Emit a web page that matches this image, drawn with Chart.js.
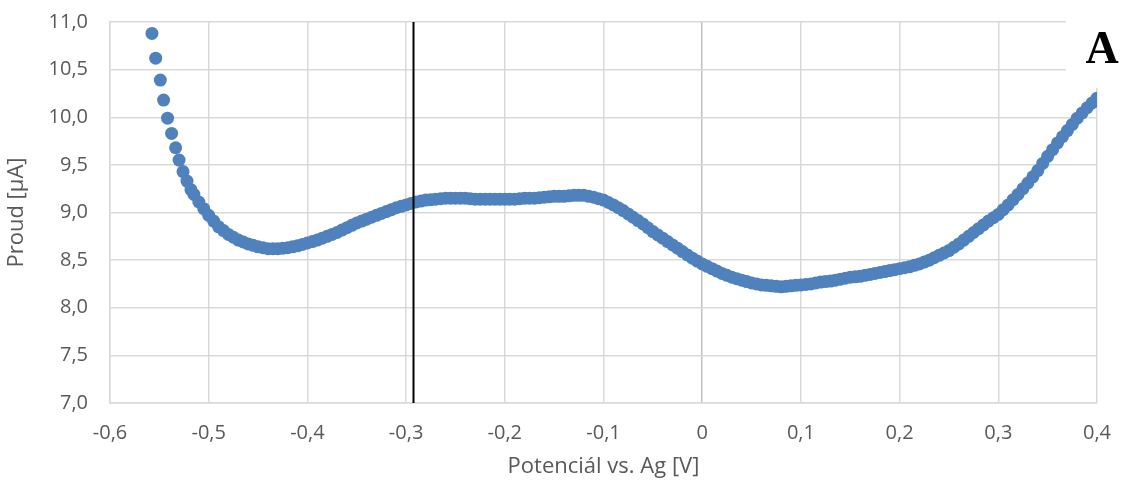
<!DOCTYPE html>
<html>
<head>
<meta charset="utf-8">
<title>Proud vs. potenciál</title>
<script src="https://cdn.jsdelivr.net/npm/chart.js@4/dist/chart.umd.min.js"></script>
<style>
  html, body { margin: 0; padding: 0; background: #fff; }
  #wrap { width: 1121px; height: 488px; }
</style>
</head>
<body>
<div id="wrap"><canvas id="cv" width="1121" height="488"></canvas></div>
<script>
// --- Data ---
const potential = [
  -0.5575, -0.5537, -0.5490, -0.5457, -0.5417, -0.5376, -0.5335, -0.5300, -0.5260, -0.5220, -0.5180,
  -0.515, -0.510, -0.505, -0.500, -0.495, -0.490, -0.485, -0.480, -0.475,
  -0.470, -0.465, -0.460, -0.455, -0.450, -0.445, -0.440, -0.435, -0.430, -0.425,
  -0.420, -0.415, -0.410, -0.405, -0.400, -0.395, -0.390, -0.385, -0.380, -0.375,
  -0.370, -0.365, -0.360, -0.355, -0.350, -0.345, -0.340, -0.335, -0.330, -0.325,
  -0.320, -0.315, -0.310, -0.305, -0.300, -0.295, -0.290, -0.285, -0.280, -0.275,
  -0.270, -0.265, -0.260, -0.255, -0.250, -0.245, -0.240, -0.235, -0.230, -0.225,
  -0.220, -0.215, -0.210, -0.205, -0.200, -0.195, -0.190, -0.185, -0.180, -0.175,
  -0.170, -0.165, -0.160, -0.155, -0.150, -0.145, -0.140, -0.135, -0.130, -0.125,
  -0.120, -0.115, -0.110, -0.105, -0.100, -0.095, -0.090, -0.085, -0.080, -0.075,
  -0.070, -0.065, -0.060, -0.055, -0.050, -0.045, -0.040, -0.035, -0.030, -0.025,
  -0.020, -0.015, -0.010, -0.005, 0.000, 0.005, 0.010, 0.015, 0.020, 0.025,
  0.030, 0.035, 0.040, 0.045, 0.050, 0.055, 0.060, 0.065, 0.070, 0.075,
  0.080, 0.085, 0.090, 0.095, 0.100, 0.105, 0.110, 0.115, 0.120, 0.125,
  0.130, 0.135, 0.140, 0.145, 0.150, 0.155, 0.160, 0.165, 0.170, 0.175,
  0.180, 0.185, 0.190, 0.195, 0.200, 0.205, 0.210, 0.215, 0.220, 0.225,
  0.230, 0.235, 0.240, 0.245, 0.250, 0.255, 0.260, 0.265, 0.270, 0.275,
  0.280, 0.285, 0.290, 0.295, 0.300, 0.305, 0.310, 0.315, 0.320, 0.325,
  0.330, 0.335, 0.340, 0.345, 0.350, 0.355, 0.360, 0.365, 0.370, 0.375,
  0.380, 0.385, 0.390, 0.395, 0.400
];

const current = [
  10.88, 10.62, 10.39, 10.18, 9.99, 9.83, 9.68, 9.55, 9.43, 9.33, 9.24,
  9.19, 9.11, 9.04, 8.97, 8.91, 8.85, 8.81, 8.77, 8.74,
  8.71, 8.69, 8.67, 8.655, 8.64, 8.63, 8.62, 8.62, 8.62, 8.625,
  8.63, 8.64, 8.65, 8.665, 8.68, 8.695, 8.71, 8.73, 8.75, 8.77,
  8.79, 8.815, 8.84, 8.865, 8.89, 8.91, 8.93, 8.95, 8.97, 8.99,
  9.01, 9.03, 9.05, 9.065, 9.08, 9.095, 9.11, 9.12, 9.13, 9.135,
  9.14, 9.145, 9.15, 9.15, 9.15, 9.15, 9.15, 9.145, 9.14, 9.14,
  9.14, 9.14, 9.14, 9.14, 9.14, 9.14, 9.14, 9.145, 9.15, 9.15,
  9.15, 9.155, 9.16, 9.165, 9.17, 9.17, 9.17, 9.175, 9.18, 9.18,
  9.18, 9.17, 9.16, 9.145, 9.13, 9.105, 9.08, 9.05, 9.02, 8.985,
  8.95, 8.915, 8.88, 8.84, 8.80, 8.765, 8.73, 8.695, 8.66, 8.625,
  8.59, 8.555, 8.52, 8.49, 8.46, 8.435, 8.41, 8.385, 8.36, 8.34,
  8.32, 8.305, 8.29, 8.275, 8.26, 8.25, 8.24, 8.235, 8.23, 8.225,
  8.22, 8.225, 8.23, 8.235, 8.24, 8.245, 8.25, 8.26, 8.27, 8.275,
  8.28, 8.29, 8.30, 8.31, 8.32, 8.325, 8.33, 8.34, 8.35, 8.36,
  8.37, 8.38, 8.39, 8.40, 8.41, 8.42, 8.43, 8.445, 8.46, 8.48,
  8.50, 8.525, 8.55, 8.575, 8.60, 8.635, 8.67, 8.71, 8.75, 8.79,
  8.83, 8.87, 8.91, 8.945, 8.98, 9.03, 9.08, 9.135, 9.19, 9.25,
  9.31, 9.375, 9.44, 9.515, 9.59, 9.66, 9.73, 9.795, 9.86, 9.925,
  9.99, 10.045, 10.10, 10.15, 10.20
];

// vertical marker line (black)
const markerX = -0.2925;
const markerY = [7.0, 11.0];

// axis ranges / ticks
const xRange = [-0.6, 0.4];
const xStep = 0.1;
const yRange = [7.0, 11.0];
const yStep = 0.5;

const panelLabel = 'A';
const xTitle = 'Potenciál vs. Ag [V]';
const yTitle = 'Proud [µA]';

// --- helpers ---
function commaNum(v, digits) {
  let s = Math.abs(v) < 1e-9 ? (0).toFixed(digits) : v.toFixed(digits);
  return s.replace('.', ',');
}

const points = potential.map((x, i) => ({ x: x, y: current[i] }));
const markerPts = markerY.map(y => ({ x: markerX, y: y }));

const textColor = '#595959';
const gridColor = '#d9d9d9';
const tickFont = { family: '"Open Sans", sans-serif', size: 20 };
const titleFont = { family: '"Open Sans", sans-serif', size: 22 };

// white box + "A" in the top right corner
const labelPlugin = {
  id: 'panelLabel',
  afterDraw(chart) {
    const c = chart.ctx;
    c.save();
    c.fillStyle = '#ffffff';
    c.fillRect(1066, 0, 60, 88);
    c.fillStyle = '#000000';
    c.font = 'bold 46px "Liberation Serif", serif';
    c.textAlign = 'center';
    c.textBaseline = 'alphabetic';
    c.fillText(panelLabel, 1102, 63);
    c.restore();
  }
};

new Chart(document.getElementById('cv'), {
  type: 'scatter',
  data: {
    datasets: [
      {
        type: 'line',
        data: markerPts,
        borderColor: '#000000',
        borderWidth: 2,
        pointRadius: 0,
        fill: false,
        order: 0
      },
      {
        data: points,
        backgroundColor: '#4f81bd',
        borderColor: '#4f81bd',
        borderWidth: 0,
        pointRadius: 6.5,
        order: 1
      }
    ]
  },
  options: {
    responsive: false,
    animation: false,
    layout: { padding: { left: 0, right: 24, top: 22, bottom: 0 } },
    plugins: { legend: { display: false }, tooltip: { enabled: false } },
    scales: {
      x: {
        type: 'linear',
        min: xRange[0],
        max: xRange[1],
        afterFit(scale) {
          scale.height = 85;
          scale.paddingLeft = 0;
          scale.paddingRight = 0;
        },
        ticks: {
          stepSize: xStep,
          color: textColor,
          font: tickFont,
          padding: 18,
          maxRotation: 0,
          callback: v => {
            const r = Math.round(v * 10) / 10;
            return Math.abs(r) < 1e-9 ? '0' : commaNum(r, 1);
          }
        },
        grid: {
          drawTicks: false,
          lineWidth: 1.5,
          color: ctx => (ctx.tick && Math.abs(ctx.tick.value) < 1e-9) ? '#bfbfbf' : gridColor
        },
        border: { display: true, color: gridColor, width: 1.5 },
        title: {
          display: true,
          text: xTitle,
          color: textColor,
          font: titleFont,
          padding: { top: 4, bottom: 8 }
        }
      },
      y: {
        min: yRange[0],
        max: yRange[1],
        afterFit(scale) {
          scale.width = 110;
          scale.paddingTop = 0;
          scale.paddingBottom = 0;
        },
        ticks: {
          stepSize: yStep,
          color: textColor,
          font: tickFont,
          padding: 22,
          callback: v => commaNum(v, 1)
        },
        grid: { drawTicks: false, lineWidth: 1.5, color: gridColor },
        border: { display: true, color: gridColor, width: 1.5 },
        title: {
          display: true,
          text: yTitle,
          color: textColor,
          font: titleFont,
          padding: { top: 4, bottom: 4 }
        }
      }
    }
  },
  plugins: [labelPlugin]
});
</script>
</body>
</html>
